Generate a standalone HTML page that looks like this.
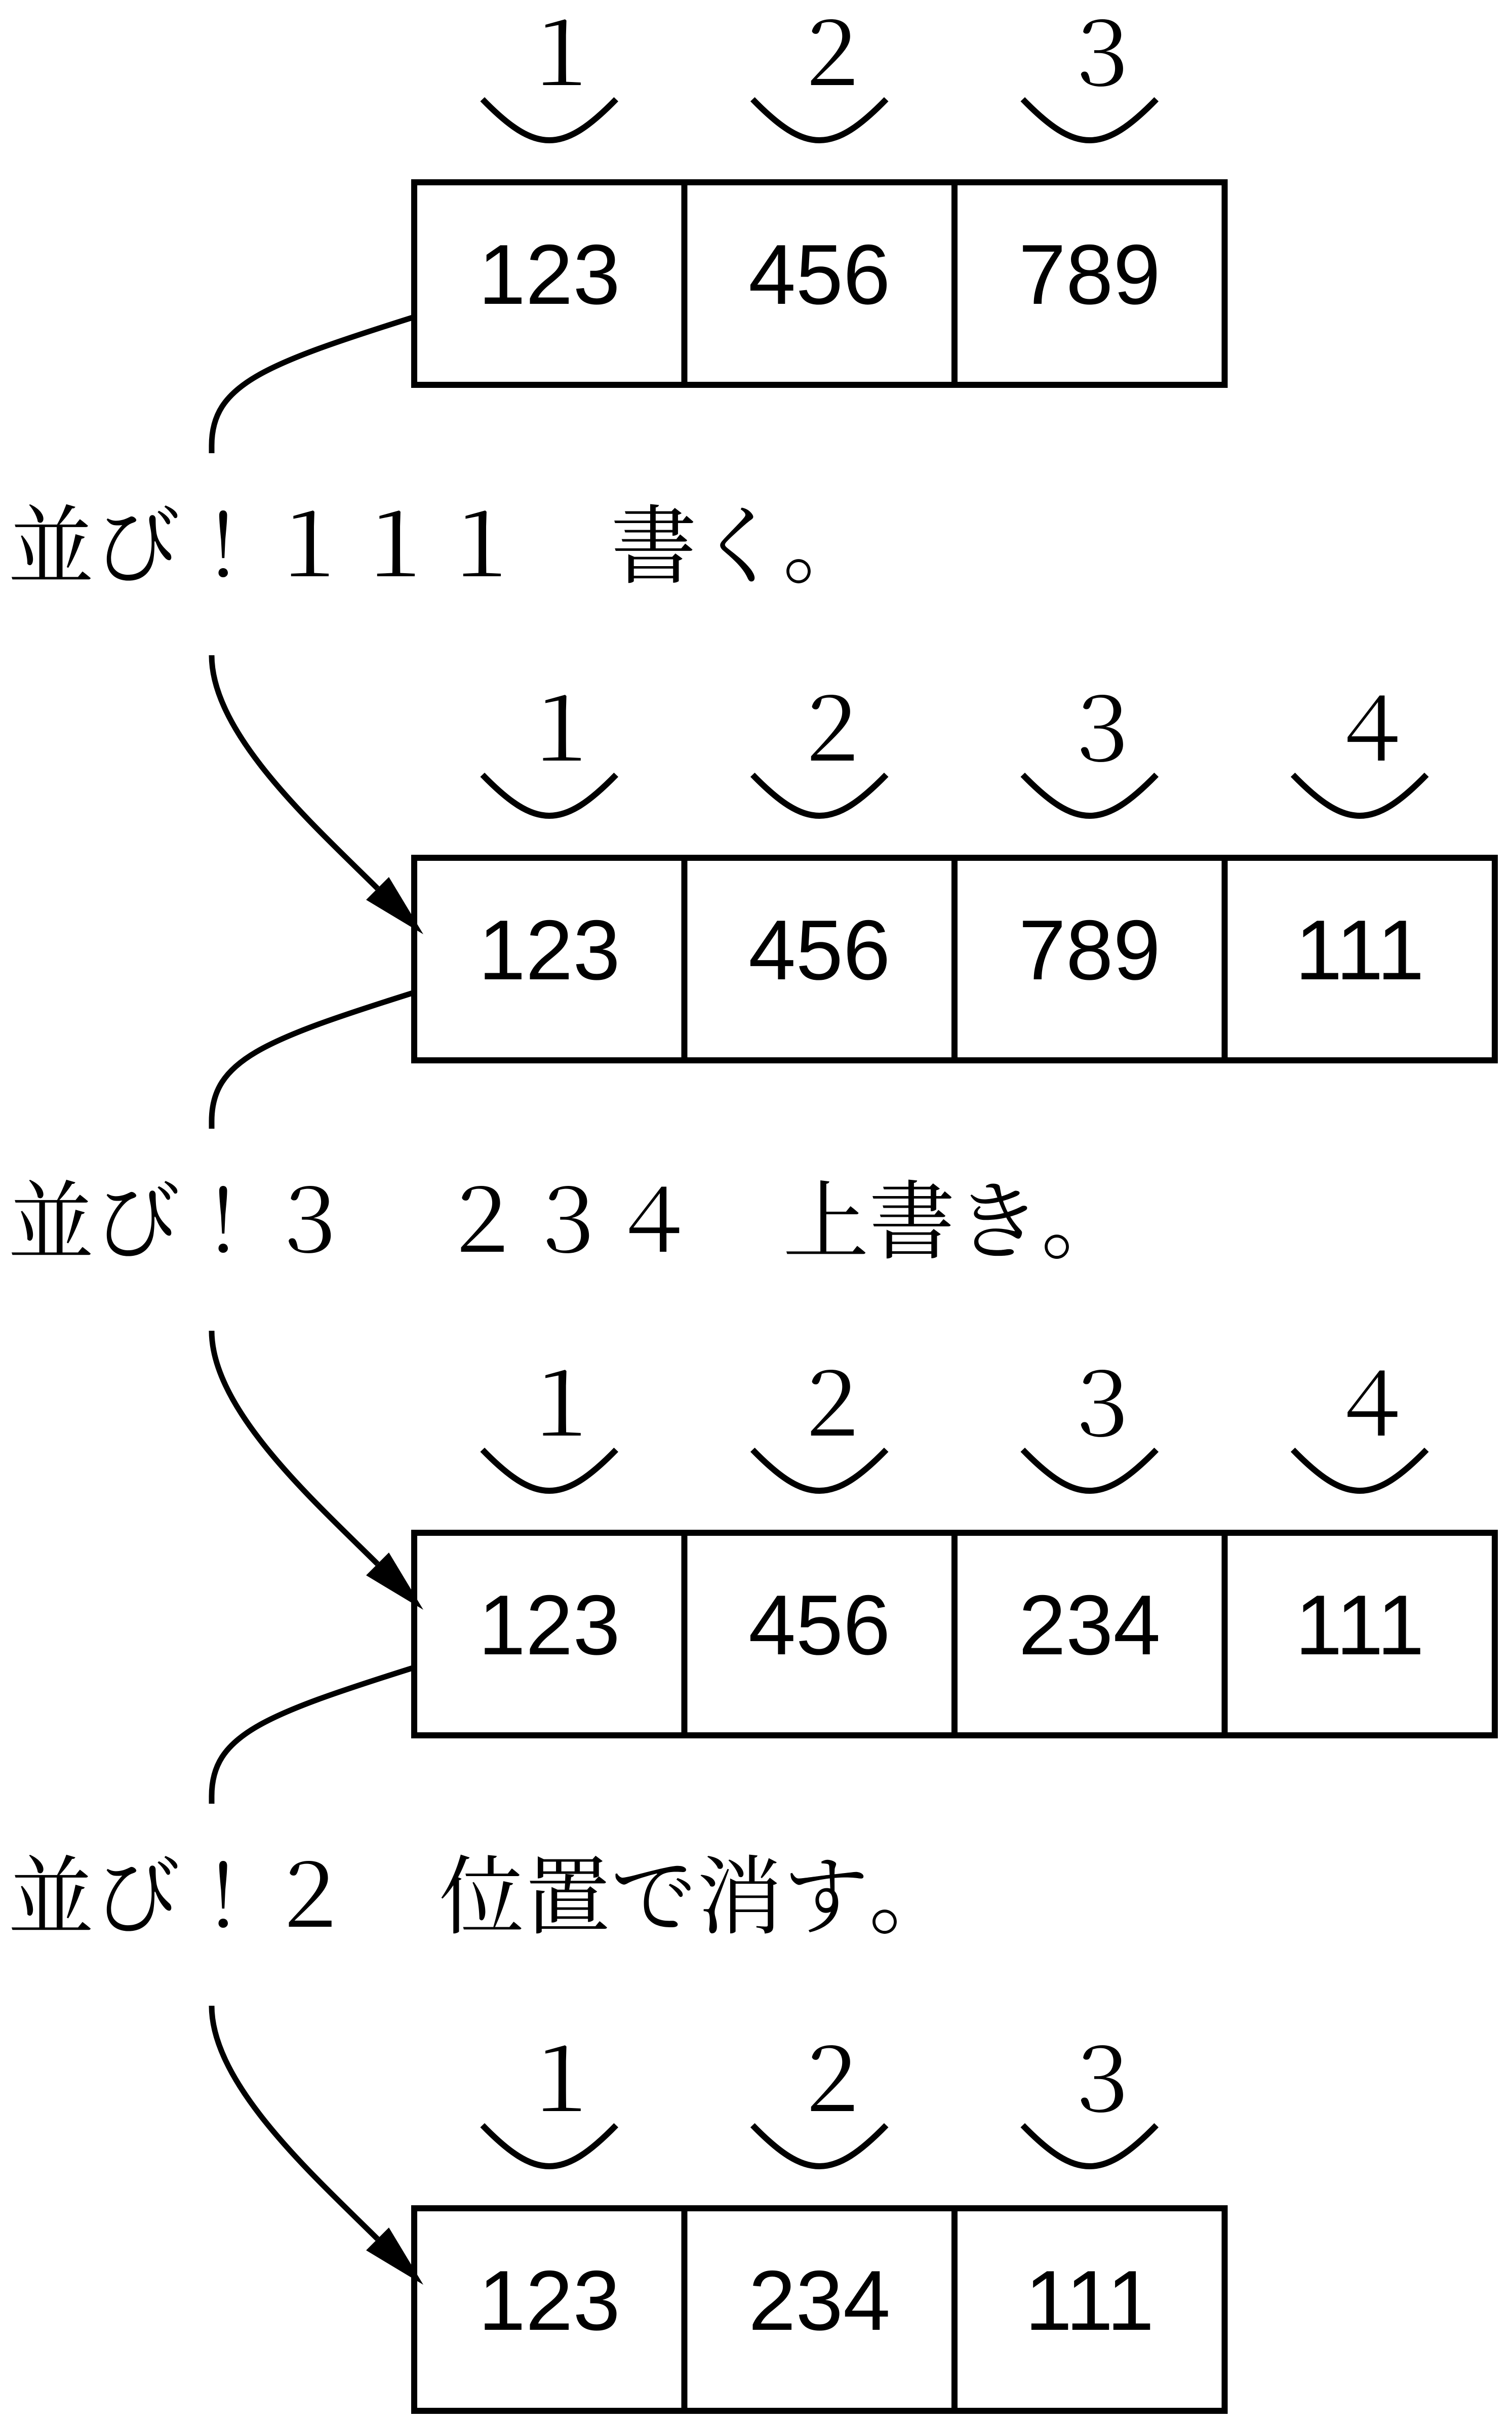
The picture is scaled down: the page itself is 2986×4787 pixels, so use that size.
<!DOCTYPE html>
<html lang="ja">
<head>
<meta charset="utf-8">
<style>
  html, body { margin: 0; padding: 0; background: #ffffff; }
  svg { display: block; }
  .num { font-family: "Liberation Sans", Arial, sans-serif; font-size: 168px; fill: #000; }
  .lab { font-family: "Liberation Serif", "Noto Serif CJK SC", serif; font-size: 170px; fill: #000; }
  .row { font-family: "Liberation Serif", "Noto Serif CJK SC", serif; font-size: 170px; fill: #000; }
  .ln { fill: none; stroke: #000; stroke-width: 12; }
  .cn { fill: none; stroke: #000; stroke-width: 11; }
</style>
</head>
<body>
<svg xmlns="http://www.w3.org/2000/svg" width="2986" height="4787" viewBox="0 0 2986 4787">
  <rect x="0" y="0" width="2986" height="4787" fill="#fff"/>

  <!-- ===== Box 1 (T=360) ===== -->
  <g>
    <!-- arcs -->
    <path class="ln" d="M952.75,196 C1057.75,304 1111.75,304 1216.75,196"/>
    <path class="ln" d="M1486.25,196 C1591.25,304 1645.25,304 1750.25,196"/>
    <path class="ln" d="M2019.75,196 C2124.75,304 2178.75,304 2283.75,196"/>
    <!-- labels -->
    <text class="lab" lang="ja" x="1108.75" y="168" text-anchor="middle">１</text>
    <text class="lab" lang="ja" x="1642.25" y="168" text-anchor="middle">２</text>
    <text class="lab" lang="ja" x="2175.75" y="168" text-anchor="middle">３</text>
    <!-- box -->
    <rect class="ln" x="818" y="360" width="1600.5" height="400"/>
    <line class="ln" x1="1351.5" y1="360" x2="1351.5" y2="760"/>
    <line class="ln" x1="1885" y1="360" x2="1885" y2="760"/>
    <text class="num" x="1084.75" y="600" text-anchor="middle">123</text>
    <text class="num" x="1618.25" y="600" text-anchor="middle">456</text>
    <text class="num" x="2151.75" y="600" text-anchor="middle">789</text>
  </g>

  <!-- connector 1 -->
  <path class="cn" d="M818,626 C520,720 418,760 418,880 L418,895"/>
  <path class="cn" d="M418,1294 C418,1450 620,1630 745.5,1754.5"/>
  <polygon points="836,1845 723,1777 768,1732" fill="#000"/>
  <text class="row" lang="ja" x="16 186 356 526 696 866 1036 1206 1376 1546" y="1138">並び！１１１　書く。</text>

  <!-- ===== Box 2 (T=1694) ===== -->
  <g>
    <path class="ln" d="M952.75,1530 C1057.75,1638 1111.75,1638 1216.75,1530"/>
    <path class="ln" d="M1486.25,1530 C1591.25,1638 1645.25,1638 1750.25,1530"/>
    <path class="ln" d="M2019.75,1530 C2124.75,1638 2178.75,1638 2283.75,1530"/>
    <path class="ln" d="M2553.25,1530 C2658.25,1638 2712.25,1638 2817.25,1530"/>
    <text class="lab" lang="ja" x="1108.75" y="1502" text-anchor="middle">１</text>
    <text class="lab" lang="ja" x="1642.25" y="1502" text-anchor="middle">２</text>
    <text class="lab" lang="ja" x="2175.75" y="1502" text-anchor="middle">３</text>
    <text class="lab" lang="ja" x="2709.25" y="1502" text-anchor="middle">４</text>
    <rect class="ln" x="818" y="1694" width="2134" height="400"/>
    <line class="ln" x1="1351.5" y1="1694" x2="1351.5" y2="2094"/>
    <line class="ln" x1="1885" y1="1694" x2="1885" y2="2094"/>
    <line class="ln" x1="2418.5" y1="1694" x2="2418.5" y2="2094"/>
    <text class="num" x="1084.75" y="1934" text-anchor="middle">123</text>
    <text class="num" x="1618.25" y="1934" text-anchor="middle">456</text>
    <text class="num" x="2151.75" y="1934" text-anchor="middle">789</text>
    <text class="num" x="2685.25" y="1934" text-anchor="middle">111</text>
  </g>

  <!-- connector 2 -->
  <path class="cn" d="M818,1960 C520,2054 418,2094 418,2214 L418,2229"/>
  <path class="cn" d="M418,2628 C418,2784 620,2964 745.5,3088.5"/>
  <polygon points="836,3179 723,3111 768,3066" fill="#000"/>
  <text class="row" lang="ja" x="16 186 356 526 696 866 1036 1206 1376 1546 1716 1886 2056" y="2472">並び！３　２３４　上書き。</text>

  <!-- ===== Box 3 (T=3027) ===== -->
  <g>
    <path class="ln" d="M952.75,2863 C1057.75,2971 1111.75,2971 1216.75,2863"/>
    <path class="ln" d="M1486.25,2863 C1591.25,2971 1645.25,2971 1750.25,2863"/>
    <path class="ln" d="M2019.75,2863 C2124.75,2971 2178.75,2971 2283.75,2863"/>
    <path class="ln" d="M2553.25,2863 C2658.25,2971 2712.25,2971 2817.25,2863"/>
    <text class="lab" lang="ja" x="1108.75" y="2835" text-anchor="middle">１</text>
    <text class="lab" lang="ja" x="1642.25" y="2835" text-anchor="middle">２</text>
    <text class="lab" lang="ja" x="2175.75" y="2835" text-anchor="middle">３</text>
    <text class="lab" lang="ja" x="2709.25" y="2835" text-anchor="middle">４</text>
    <rect class="ln" x="818" y="3027" width="2134" height="400"/>
    <line class="ln" x1="1351.5" y1="3027" x2="1351.5" y2="3427"/>
    <line class="ln" x1="1885" y1="3027" x2="1885" y2="3427"/>
    <line class="ln" x1="2418.5" y1="3027" x2="2418.5" y2="3427"/>
    <text class="num" x="1084.75" y="3267" text-anchor="middle">123</text>
    <text class="num" x="1618.25" y="3267" text-anchor="middle">456</text>
    <text class="num" x="2151.75" y="3267" text-anchor="middle">234</text>
    <text class="num" x="2685.25" y="3267" text-anchor="middle">111</text>
  </g>

  <!-- connector 3 -->
  <path class="cn" d="M818,3293 C520,3387 418,3427 418,3547 L418,3562"/>
  <path class="cn" d="M418,3961 C418,4117 620,4297 745.5,4421.5"/>
  <polygon points="836,4512 723,4444 768,4399" fill="#000"/>
  <text class="row" lang="ja" x="16 186 356 526 696 866 1036 1206 1376 1546 1716" y="3805">並び！２　位置で消す。</text>

  <!-- ===== Box 4 (T=4361) ===== -->
  <g>
    <path class="ln" d="M952.75,4197 C1057.75,4305 1111.75,4305 1216.75,4197"/>
    <path class="ln" d="M1486.25,4197 C1591.25,4305 1645.25,4305 1750.25,4197"/>
    <path class="ln" d="M2019.75,4197 C2124.75,4305 2178.75,4305 2283.75,4197"/>
    <text class="lab" lang="ja" x="1108.75" y="4169" text-anchor="middle">１</text>
    <text class="lab" lang="ja" x="1642.25" y="4169" text-anchor="middle">２</text>
    <text class="lab" lang="ja" x="2175.75" y="4169" text-anchor="middle">３</text>
    <rect class="ln" x="818" y="4361" width="1600.5" height="400"/>
    <line class="ln" x1="1351.5" y1="4361" x2="1351.5" y2="4761"/>
    <line class="ln" x1="1885" y1="4361" x2="1885" y2="4761"/>
    <text class="num" x="1084.75" y="4601" text-anchor="middle">123</text>
    <text class="num" x="1618.25" y="4601" text-anchor="middle">234</text>
    <text class="num" x="2151.75" y="4601" text-anchor="middle">111</text>
  </g>
</svg>
</body>
</html>
